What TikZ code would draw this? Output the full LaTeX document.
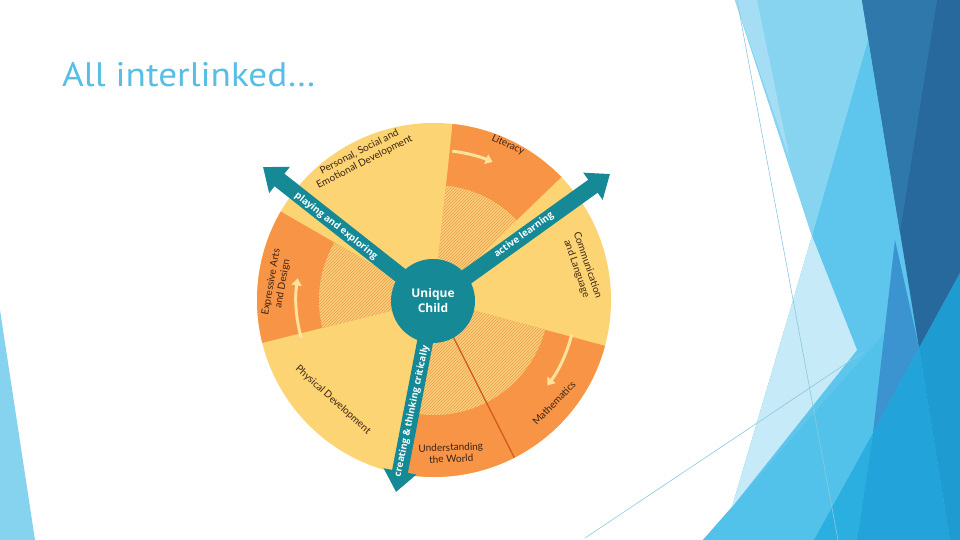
\documentclass[tikz,border=0pt]{standalone}
\usepackage{fontspec}
\setmainfont{Open Sans}
\newfontfamily\titlefont{PT Sans}
\newfontfamily\lblfont{Lato}
\newfontfamily\hubfont{Open Sans}
\usetikzlibrary{patterns,arrows.meta}
\definecolor{bgA}{HTML}{5EC6EC}
\definecolor{bgB}{HTML}{87D4F1}
\definecolor{bgC}{HTML}{A5DDF4}
\definecolor{bgD}{HTML}{C6EAF7}
\definecolor{bgE}{HTML}{53C2EA}
\definecolor{bgF}{HTML}{28699D}
\definecolor{bgG}{HTML}{2F78AC}
\definecolor{bgH}{HTML}{3B93CF}
\definecolor{bgI}{HTML}{2AAFE0}
\definecolor{bgJ}{HTML}{22A4DA}
\definecolor{bgK}{HTML}{1E9BD0}
\definecolor{bgL}{HTML}{86D3EF}
\definecolor{thinc}{HTML}{8CC8E0}
\definecolor{titleblue}{HTML}{57BEE6}
\definecolor{yelc}{HTML}{FCD473}
\definecolor{orgc}{HTML}{F79446}
\definecolor{hatchbase}{HTML}{FAD07A}
\definecolor{hatchline}{HTML}{EB9C4C}
\definecolor{tealc}{HTML}{168996}
\definecolor{lbltext}{HTML}{3C2415}
\definecolor{curvc}{HTML}{FDE29B}
\definecolor{redc}{HTML}{D35B20}
\tikzset{
  seglabel/.style={font=\lblfont\fontsize{10}{11.5}\selectfont, text=lbltext, align=center, inner sep=0},
  arrowlabel/.style={font=\hubfont\bfseries\fontsize{9.5}{11}\selectfont, text=white, inner sep=0},
  bigarrow/.style={draw=tealc, line width=16, -{Triangle[length=21pt,width=32pt]}},
  curvarrow/.style={draw=curvc, line width=3, -{Triangle[length=7pt,width=10pt]}},
  hubnode/.style={circle, fill=tealc, minimum size=84, inner sep=0, text=white, align=center, font=\hubfont\bfseries\fontsize{12}{15}\selectfont},
  thinline/.style={draw=thinc, line width=0.6},
}
\begin{document}
\begin{tikzpicture}[x=1pt,y=1pt]
\useasboundingbox (0,0) rectangle (960,540);
\fill[white] (0,0) rectangle (960,540);
% ---- background facets (right) ----
\fill[bgA] (735,540) -- (960,540) -- (960,0) -- (703,0) -- (732,33) -- (812,304) -- cycle;
\fill[bgB] (735,540) -- (862,540) -- (868,500) -- (812,304) -- cycle;
\fill[bgC] (735,540) -- (757,540) -- (790,380) -- cycle;
\fill[bgE] (703,0) -- (887,210) -- (960,293) -- (960,0) -- cycle;
\fill[bgD] (812,304) -- (857,190) -- (732,33) -- cycle;
\fill[bgF] (862,540) -- (960,540) -- (960,267) -- (919,192) -- cycle;
\fill[bgG] (862,540) -- (937,540) -- (900,308) -- cycle;
\fill[bgH] (895,300) -- (919,192) -- (873,107) -- cycle;
\fill[bgI] (814,0) -- (873,107) -- (857,0) -- cycle;
\fill[bgJ] (873,107) -- (919,192) -- (950,0) -- (857,0) -- cycle;
\fill[bgK] (919,192) -- (960,267) -- (960,0) -- (950,0) -- cycle;
\coordinate (t1a) at (737,540); \coordinate (t1b) at (838,0);
\coordinate (t2a) at (585,2);   \coordinate (t2b) at (862,187);
\draw[thinline] (t1a) -- (t1b);
\draw[thinline] (t2a) -- (t2b);
% ---- background facet (left) ----
\fill[bgL] (0,230) -- (35,0) -- (0,0) -- cycle;
% ---- title ----
\node[anchor=base west, text=titleblue, font=\titlefont\fontsize{34}{40}\selectfont, inner sep=0] (title) at (62,453) {\scalebox{1.095}[1]{All interlinked…}};
% ---- wheel ----
\begin{scope}[shift={(434,240)}]
  \fill[yelc] (0,0) circle (177);
  % specific areas: orange outer, hatched inner
  \foreach \a/\b in {44/84, -63/-15, -102/-63, 150/194} {
    \fill[orgc] (0,0) -- (\a:177) arc[start angle=\a, end angle=\b, radius=177] -- cycle;
    \fill[hatchbase] (0,0) -- (\a:115) arc[start angle=\a, end angle=\b, radius=115] -- cycle;
    \fill[pattern=north east lines, pattern color=hatchline] (0,0) -- (\a:115) arc[start angle=\a, end angle=\b, radius=115] -- cycle;
  }
  \draw[redc, line width=1.3] (-62.5:40) -- (-63:177);
  % circular arrows
  \draw[curvarrow] (83:150) arc[start angle=83, end angle=67, radius=150];
  \draw[curvarrow] (196:138) arc[start angle=196, end angle=171, radius=138];
  \draw[curvarrow] (-14:142) arc[start angle=-14, end angle=-37, radius=142];
  % segment labels
  \node[seglabel, rotate=27] (psed) at (-72,143) {Personal, Social and\\Emotional Development};
  \node[seglabel, rotate=-25] (lit) at (74,155) {Literacy};
  \node[seglabel, rotate=-71] (cl) at (148,33) {Communication\\and Language};
  \node[seglabel, rotate=46] (mat) at (120,-103) {Mathematics};
  \node[seglabel, rotate=2] (uw) at (17,-153) {Understanding\\the World};
  \node[seglabel, rotate=-42] (pd) at (-101,-100) {Physical Development};
  \node[seglabel, rotate=80] (ead) at (-157,17) {Expressive Arts\\and Design};
  % teal arrows
  \coordinate (hubc) at (-1,-1);
  \coordinate (tipPE) at (-171,133);
  \coordinate (tipAL) at (176,126);
  \coordinate (tipCT) at (-38,-192);
  \draw[bigarrow] (hubc) -- (tipPE);
  \draw[bigarrow] (hubc) -- (tipAL);
  \draw[bigarrow] (hubc) -- (tipCT);
  \node[arrowlabel, rotate=-38] (lpe) at (-98,74) {playing and exploring};
  \node[arrowlabel, rotate=35.5] (lal) at (90,65) {active learning};
  \node[arrowlabel, rotate=78] (lct) at (-22,-111) {creating \& thinking critically};
  \node[hubnode] (hub) at (hubc) {Unique\\Child};
\end{scope}
\end{tikzpicture}
\end{document}
